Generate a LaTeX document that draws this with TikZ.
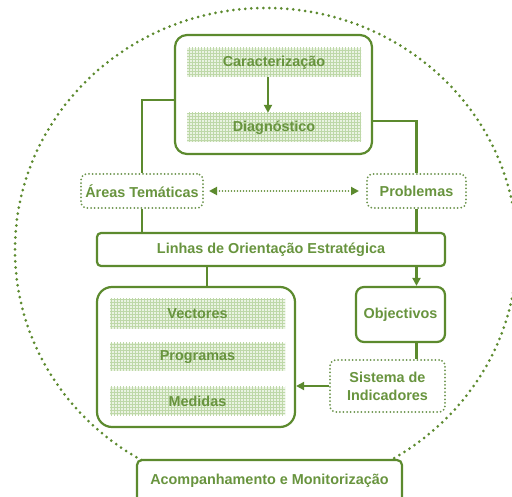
\documentclass[tikz,border=0pt]{standalone}
\usepackage{fontspec}
\setmainfont{Liberation Sans}
\usetikzlibrary{arrows.meta,patterns}
\definecolor{leaf}{RGB}{92,138,46}
\definecolor{leaftext}{RGB}{104,148,62}
\definecolor{leafdot}{RGB}{106,146,74}
\definecolor{leafband}{RGB}{234,243,226}
\definecolor{leafgrid}{RGB}{190,216,168}

\begin{document}
\begin{tikzpicture}[x=1pt, y=-1pt,
    >={Triangle[length=8pt,width=8pt]},
    every node/.style={font=\bfseries\fontsize{14.4}{18}\selectfont, text=leaftext},
    frame/.style={draw=leaf, line width=2.2pt, fill=white, rounded corners=#1},
    frame/.default=6pt,
    dotbox/.style={draw=leafdot, line width=2pt, dash pattern=on 0pt off 3.6pt, line cap=round, rounded corners=6pt, fill=white},
    band/.style={preaction={fill=leafband}, pattern=grid, pattern color=leafgrid, inner sep=0pt, minimum width=#1},
    band/.default=174pt,
    link/.style={draw=leaf, line width=2.2pt},
    dotlink/.style={draw=leaf, line width=1.9pt, dash pattern=on 0pt off 3pt, line cap=round},
    ring/.style={draw=leaf, line width=3pt, dash pattern=on 0pt off 6pt, line cap=round}]
    \clip (0,0) rectangle (512,497);
    \draw[ring] (266,250) ellipse [x radius=251pt, y radius=242pt];

    % diagnostico
    \node[frame=12pt, minimum width=197pt, minimum height=119pt] (analise) at (273.5,94.5) {};
    \node[band, minimum height=29pt] (carac) at (274,62.5) {Caracterização};
    \node[band, minimum height=29pt] (diag) at (274,127.5) {Diagnóstico};
    \draw[link,->] ([xshift=-6pt]carac.south) -- ([xshift=-6pt]diag.north);

    \node[dotbox, minimum width=122pt, minimum height=34pt] (areas) at (142,191) {Áreas Temáticas};
    \node[dotbox, minimum width=99pt, minimum height=34pt] (probl) at (416.5,191) {Problemas};
    \draw[dotlink,<->, shorten <=5pt, shorten >=7pt] (areas) -- (probl);
    \draw[link] ([yshift=-5.5pt]analise.west) -| (areas);
    \draw[link] ([yshift=-26.5pt]analise.east) -| (probl);

    \node[frame=4pt, minimum width=348pt, minimum height=33pt] (linhas) at (271,249.5) {Linhas de Orientação Estratégica};
    \draw[link] (areas) -- (areas |- linhas.north);
    \draw[link] (probl) -- (probl |- linhas.north);

    % accao
    \node[frame=15pt, minimum width=198pt, minimum height=140pt] (accao) at (196,357) {};
    \node[band=175pt, minimum height=30pt] (vect) at (197.5,314) {Vectores};
    \node[band=175pt, minimum height=28pt] (prog) at (197.5,357) {Programas};
    \node[band=175pt, minimum height=28pt] (medi) at (197.5,401) {Medidas};
    \draw[link] ([xshift=11pt]accao.north |- linhas.south) -- ([xshift=11pt]accao.north);

    \node[frame=8pt, minimum width=89pt, minimum height=55pt] (objec) at (400.5,314.5) {Objectivos};
    \node[dotbox, minimum width=115pt, minimum height=52pt, align=center] (sist) at (387.5,386) {Sistema de\\Indicadores};
    \draw[link,->] (probl |- linhas.south) -- (probl |- objec.north);
    \draw[link] (probl |- objec.south) -- (probl |- sist.north);
    \draw[link,->] (sist) -- (sist -| accao.east);

    \node[frame=5pt, minimum width=265pt, minimum height=42pt] (acomp) at (269.5,481) {Acompanhamento e Monitorização};
\end{tikzpicture}
\end{document}
